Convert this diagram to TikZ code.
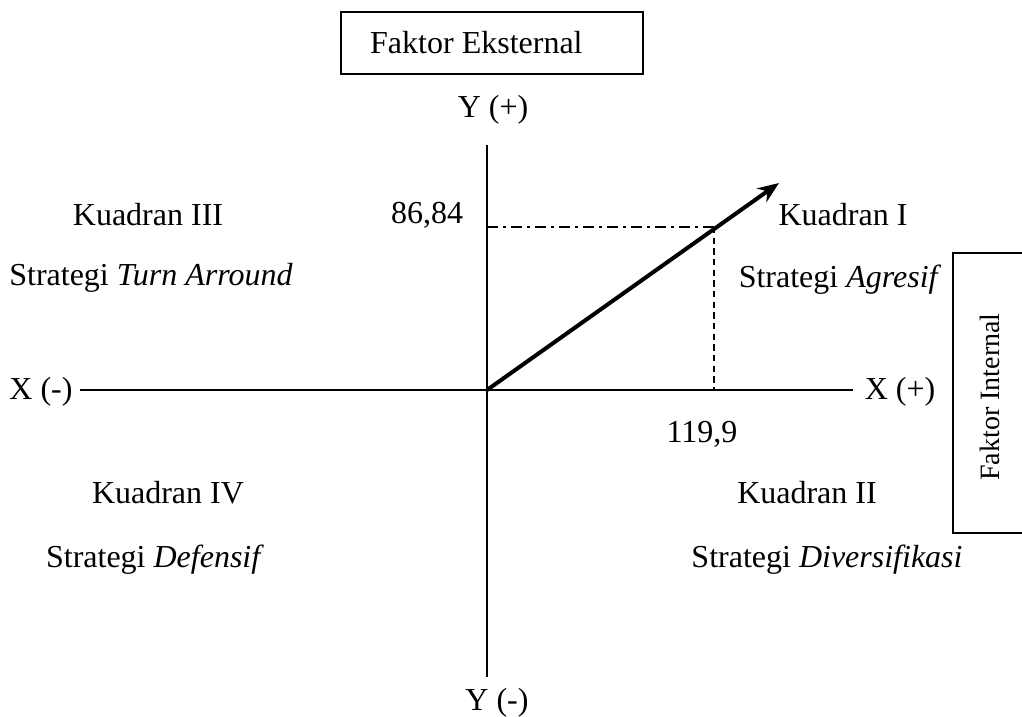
\documentclass[tikz,border=0pt]{standalone}
\usepackage{fontspec}
\setmainfont{Liberation Serif}
\usetikzlibrary{arrows.meta,positioning,calc}

\begin{document}
\begin{tikzpicture}[
    x=0.375pt, y=-0.375pt,
    label/.style={font=\fontsize{12}{14}\selectfont, inner sep=1pt},
    factor/.style={draw, line width=0.7pt},
    axis/.style={line width=0.75pt},
    vector/.style={-{Stealth[length=2.8mm, width=2.2mm]}, line width=1.5pt},
]
\useasboundingbox (0,0) rectangle (1022,717);
% frame boxes
\draw[factor] (341,12) rectangle (643,74);
\node[label, anchor=west] (ext) at (367,43) {Faktor Eksternal};
\draw[factor] (1026,253) rectangle (953,533);
\node[label, font=\fontsize{10.5}{12}\selectfont, rotate=90] (int) at (990,397) {Faktor Internal};
% axes
\coordinate (o) at (487,390);
\coordinate (ytop) at (487,145);
\coordinate (ybot) at (487,677);
\coordinate (xleft) at (80,390);
\coordinate (xright) at (853,390);
\node[label] (yplus) at (493,110) {Y (+)};
\node[label] (yminus) at (497,703) {Y (-)};
\node[label] (xminus) at (41,392) {X (-)};
\node[label] (xplus) at (900,392) {X (+)};
\draw[axis] (ytop) -- (ybot);
\draw[axis] (xleft) -- (xright);
% result point
\coordinate (p) at (714,227);
\coordinate (tip) at (779,183);
\coordinate (py) at (o |- p);
\coordinate (px) at (p |- o);
\draw[line width=0.6pt, dash pattern=on 4pt off 2pt on 1pt off 2pt] (py) -- (p);
\draw[line width=0.6pt, dash pattern=on 2.4pt off 1.6pt] (p) -- (px);
\draw[vector] (o) -- (tip);
\node[label] (ylab) at (427,215) {86,84};
\node[label] (xlab) at (702,434) {119,9};
% quadrants
\node[label] (q3) at (148,215) {Kuadran III};
\node[label] (s3) at (151,278) {Strategi \textit{Turn Arround}};
\node[label] (q1) at (843,215) {Kuadran I};
\node[label] (s1) at (840,280) {Strategi \textit{Agresif}};
\node[label] (q4) at (168,493) {Kuadran IV};
\node[label] (s4) at (155,560) {Strategi \textit{Defensif}};
\node[label] (q2) at (807,493) {Kuadran II};
\node[label] (s2) at (827,560) {Strategi \textit{Diversifikasi}};
\end{tikzpicture}
\end{document}
